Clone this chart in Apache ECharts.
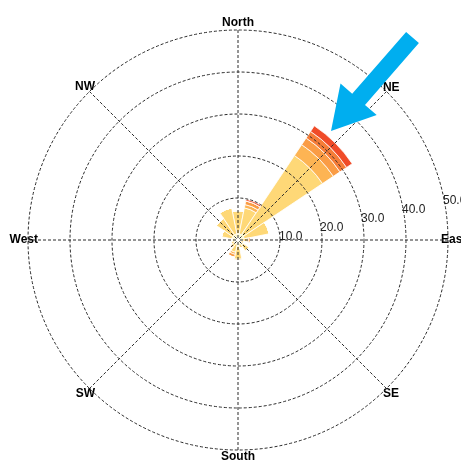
<!DOCTYPE html>
<html><head><meta charset="utf-8">
<script src="https://cdn.jsdelivr.net/npm/echarts@6/dist/echarts.min.js"></script>
<style>html,body{margin:0;padding:0;background:#fff}#c{width:461px;height:460px}</style>
</head><body><div id="c"></div>
<script>
// 16 wind directions (category axis); only every other one is labelled
const directions = ['North','NNE','NE','ENE','East','ESE','SE','SSE','South','SSW','SW','WSW','West','WNW','NW','NNW'];
// speed classes (stack order, inner to outer)
const speedClasses = ['0-2','2-4','4-6','6-8','8-10','10+'];
const speedColors = ['#FFF6A6','#FED877','#FDB453','#FA9C45','#F67D38','#F04B28'];
// frequency (%) per direction for each speed class
const s0 = [1.5,1.5,1.8,1.5,1.0,0.8,1.5,1.0,1.5,1.0,1.0,0.9,0.8,1.5,1.5,1.5];
const s1 = [5.5,6.3,22.4,6.1,1.2,0.7,1.7,1.0,3.1,2.0,0.9,0.9,0.7,2.5,4.7,6.3];
const s2 = [0,0.8,3.1,0,0.4,0,0,0,0.3,0.5,0.3,0,0,0,0,0];
const s3 = [0,0.9,1.9,0,0.4,0,0,0,0,0.7,0,0,0,0,0,0];
const s4 = [0,0,1.9,0,0,0,0,0,0,0,0,0,0,0,0,0];
const s5 = [0,0.4,1.6,0,0,0,0,0,0,0,0,0,0,0,0,0];
const speedData = [s0,s1,s2,s3,s4,s5];
// radial axis
const radialMin = 0, radialMax = 50, radialStep = 10;

const font = 'Liberation Sans, Arial, sans-serif';
const gridLine = {color:'#2a2a2a', type:[3,2], width:1};
// per-label padding (pushes the labelled compass points onto the outer ring)
const labelPad = {
  'North':[0,0,11,0], 'NE':[0,0,5,3.5], 'East':[0,0,0,3], 'SE':[6.5,0,0,3.5],
  'South':[11,0,0,0], 'SW':[6.5,1.5,0,0], 'West':[0,0,0,0], 'NW':[0,1.5,5.5,0]
};
const angleData = directions.map(d => labelPad[d] ? {value:d, textStyle:{padding:labelPad[d]}} : d);

const chart = echarts.init(document.getElementById('c'));
chart.setOption({
  animation:false,
  backgroundColor:'#fff',
  polar:[{center:[238,240], radius:210},{center:[238,240], radius:210}],
  angleAxis:[
    {polarIndex:0, type:'category', data:angleData, startAngle:90, clockwise:true, boundaryGap:false, z:5,
     axisLine:{show:false}, axisTick:{show:false, interval:1},
     axisLabel:{interval:1, margin:-10, color:'#000', fontWeight:'bold', fontSize:12, fontFamily:font},
     splitLine:{show:true, interval:1, lineStyle:gridLine}},
    {polarIndex:1, type:'value', min:0, max:360, startAngle:12.5, show:false}
  ],
  radiusAxis:[
    {polarIndex:0, type:'value', min:radialMin, max:radialMax, interval:radialStep,
     axisLine:{show:false}, axisTick:{show:false}, axisLabel:{show:false}, splitLine:{show:false}},
    {polarIndex:1, type:'value', min:radialMin, max:radialMax, interval:radialStep, z:6,
     axisLine:{show:false}, axisTick:{show:false},
     splitLine:{show:true, lineStyle:gridLine},
     axisLabel:{showMinLabel:false, margin:0, align:'left', verticalAlign:'top', color:'#222', fontSize:12, fontFamily:font,
       formatter:v=>v.toFixed(1)}}
  ],
  series: speedData.map((d,i)=>({
    type:'bar', coordinateSystem:'polar', polarIndex:0, stack:'wind', name:speedClasses[i],
    data:d, barCategoryGap:'0%',
    itemStyle:{color:speedColors[i], borderColor:'#fff', borderWidth:0.8}
  })),
  graphic:[{type:'polygon', z:100,
    shape:{points:[[406.1,31.9],[418.9,43.1],[365,104.9],[376.7,115.1],[331,131],[340.5,83.5],[352.2,93.7]]},
    style:{fill:'#00AEEF'}}]
});
</script></body></html>
